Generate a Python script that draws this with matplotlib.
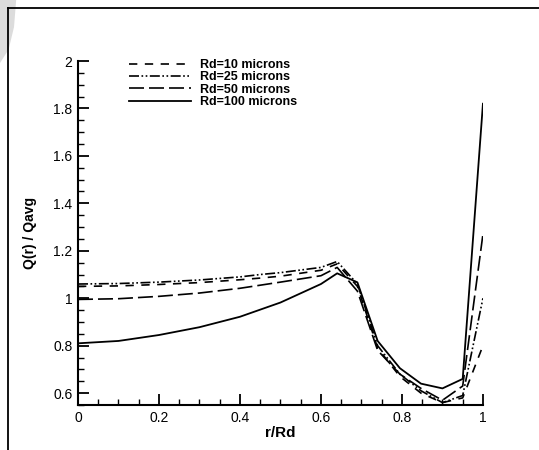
import matplotlib
matplotlib.use('Agg')
import matplotlib.pyplot as plt
from matplotlib.lines import Line2D
from matplotlib.patches import Polygon
from matplotlib.ticker import MultipleLocator

plt.rcParams['font.family'] = ['Liberation Sans', 'DejaVu Sans']

# r/Rd sample positions
r = [0.0, 0.1, 0.2, 0.3, 0.4, 0.45, 0.5, 0.6, 0.64, 0.69, 0.74, 0.795, 0.847, 0.9, 0.95, 1.0]

q_rd10 = [1.05, 1.052, 1.058, 1.066, 1.078, 1.085, 1.093, 1.118, 1.145, 1.05, 0.79, 0.67, 0.60, 0.56, 0.58, 0.80]
q_rd25 = [1.06, 1.062, 1.068, 1.077, 1.09, 1.1, 1.108, 1.13, 1.155, 1.06, 0.80, 0.68, 0.61, 0.56, 0.59, 1.00]
q_rd50 = [0.995, 0.998, 1.008, 1.022, 1.042, 1.055, 1.068, 1.095, 1.13, 1.03, 0.78, 0.68, 0.62, 0.57, 0.63, 1.27]
q_rd100 = [0.81, 0.82, 0.845, 0.878, 0.922, 0.952, 0.982, 1.06, 1.105, 1.067, 0.82, 0.705, 0.64, 0.62, 0.66, 1.82]

labels = ['Rd=10 microns', 'Rd=25 microns', 'Rd=50 microns', 'Rd=100 microns']
xtick_labels = ['0', '0.2', '0.4', '0.6', '0.8', '1']
ytick_labels = ['0.6', '0.8', '1', '1.2', '1.4', '1.6', '1.8', '2']

fig = plt.figure(figsize=(5.39, 4.5), dpi=100)
ax = fig.add_axes([0.1447, 0.1, 0.7513, 0.7644])

ax.plot(r, q_rd10, color='k', lw=1.2, dashes=(5, 4.5), label=labels[0])
ax.plot(r, q_rd25, color='k', lw=1.2, dashes=(6, 1.5, 1, 1.5, 1, 1.5), label=labels[1])
ax.plot(r, q_rd50, color='k', lw=1.2, dashes=(9, 3), label=labels[2])
ax.plot(r, q_rd100, color='k', lw=1.3, label=labels[3])

ax.set_xlim(0, 1)
ax.set_ylim(0.55, 2)
ax.xaxis.set_minor_locator(MultipleLocator(0.05))
ax.yaxis.set_minor_locator(MultipleLocator(0.05))
ax.set_xticks([0, 0.2, 0.4, 0.6, 0.8, 1.0])
ax.set_xticklabels(xtick_labels)
ax.set_yticks([0.6, 0.8, 1.0, 1.2, 1.4, 1.6, 1.8, 2.0])
ax.set_yticklabels(ytick_labels)

ax.spines['top'].set_visible(False)
ax.spines['right'].set_visible(False)
for s in ['left', 'bottom']:
    ax.spines[s].set_linewidth(1.5)
ax.tick_params(which='major', direction='in', length=8, width=1.3, labelsize=10, pad=4)
ax.tick_params(which='minor', direction='in', length=4, width=1.0)

ax.set_xlabel('r/Rd', fontsize=11, fontweight='bold', labelpad=1)
ax.set_ylabel('Q(r) / Qavg', fontsize=10, fontweight='bold', labelpad=12)

ax.legend(loc='upper left', bbox_to_anchor=(0.107, 1.028), frameon=False,
          prop={'weight': 'bold', 'size': 9}, handlelength=5.0,
          handletextpad=0.7, labelspacing=0.03, borderaxespad=0.2)

# outer frame
fig.add_artist(Line2D([8 / 539, 8 / 539], [0, 1 - 8 / 450], color='k', lw=1.3))
fig.add_artist(Line2D([8 / 539, 1], [1 - 8 / 450, 1 - 8 / 450], color='k', lw=1.3))

# faint smudge at the top-left corner
fig.add_artist(Polygon([(0, 1), (0.03, 1), (0.026, 0.94), (0.016, 0.89), (0.0, 0.86)],
                       closed=True, facecolor='#dcdcdc', edgecolor='none',
                       transform=fig.transFigure, zorder=-1))

fig.savefig('out.png', dpi=100)
